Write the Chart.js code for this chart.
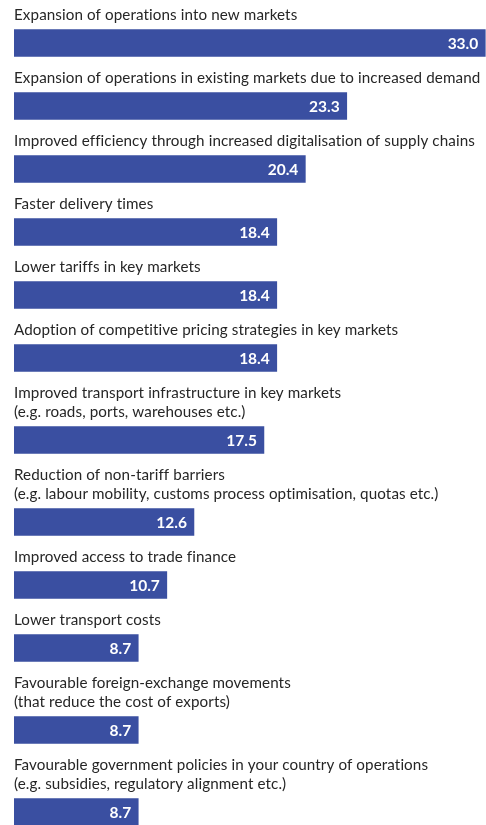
<!DOCTYPE html>
<html>
<head>
    <meta charset="utf-8" />
    <title>Factors driving exports</title>
    <script src="https://cdn.jsdelivr.net/npm/chart.js"></script>
    <style>
        html, body { margin: 0; padding: 0; background: #ffffff; }
        #wrap { width: 486px; height: 825px; position: relative; }
    </style>
</head>
<body>
    <div id="wrap"><canvas id="chart"></canvas></div>
    <script>
        // chart data
        const categories = [
            ['Expansion of operations into new markets'],
            ['Expansion of operations in existing markets due to increased demand'],
            ['Improved efficiency through increased digitalisation of supply chains'],
            ['Faster delivery times'],
            ['Lower tariffs in key markets'],
            ['Adoption of competitive pricing strategies in key markets'],
            ['Improved transport infrastructure in key markets', '(e.g. roads, ports, warehouses etc.)'],
            ['Reduction of non-tariff barriers', '(e.g. labour mobility, customs process optimisation, quotas etc.)'],
            ['Improved access to trade finance'],
            ['Lower transport costs'],
            ['Favourable foreign-exchange movements', '(that reduce the cost of exports)'],
            ['Favourable government policies in your country of operations', '(e.g. subsidies, regulatory alignment etc.)']
        ];
        const values = [33.0, 23.3, 20.4, 18.4, 18.4, 18.4, 17.5, 12.6, 10.7, 8.7, 8.7, 8.7];

        // layout (pixels on the y scale, which runs 0..825)
        const LINE_H = 19;
        const FIRST_BASE = 19.5;
        const BAR_H = 27;
        const GAP_TEXT_BAR = 10.5;
        const BLOCK_EXTRA = 44;

        // work out where each block starts from the number of label lines
        const blockTops = [];
        let runY = 0;
        categories.forEach(lines => {
            blockTops.push(runY);
            runY += lines.length * LINE_H + BLOCK_EXTRA;
        });
        const barCenters = categories.map((lines, i) =>
            blockTops[i] + lines.length * LINE_H + GAP_TEXT_BAR + BAR_H / 2);

        const points = values.map((v, i) => ({ x: v, y: barCenters[i] }));

        const labelPlugin = {
            id: 'labels',
            afterDatasetsDraw(chart) {
                const ctx = chart.ctx;
                const yScale = chart.scales.y;
                const meta = chart.getDatasetMeta(0);
                ctx.save();
                // category text above each bar
                ctx.font = '15.2px Lato';
                ctx.letterSpacing = '0.1px'; // also stops the ti / ffi ligatures
                ctx.fillStyle = '#262626';
                ctx.textAlign = 'left';
                ctx.textBaseline = 'alphabetic';
                categories.forEach((lines, i) => {
                    lines.forEach((line, k) => {
                        const y = yScale.getPixelForValue(blockTops[i] + FIRST_BASE + k * LINE_H);
                        ctx.fillText(line, chart.chartArea.left, y);
                    });
                });
                // values inside the bar end
                ctx.letterSpacing = '0px';
                ctx.font = 'bold 15.5px Lato';
                ctx.fillStyle = '#ffffff';
                ctx.textAlign = 'right';
                meta.data.forEach((bar, i) => {
                    ctx.fillText(values[i].toFixed(1), bar.x - 7, bar.y + 5.5);
                });
                ctx.restore();
            }
        };

        new Chart(document.getElementById('chart'), {
            type: 'bar',
            data: {
                datasets: [{
                    data: points,
                    backgroundColor: '#3a4fa1',
                    borderWidth: 0,
                    barThickness: BAR_H
                }]
            },
            options: {
                indexAxis: 'y',
                responsive: true,
                maintainAspectRatio: false,
                animation: false,
                layout: { padding: { left: 14, right: 0, top: 0, bottom: 0 } },
                plugins: {
                    legend: { display: false },
                    tooltip: { enabled: false }
                },
                scales: {
                    x: { type: 'linear', display: false, min: 0, max: 33.05, offset: false },
                    y: { type: 'linear', display: false, min: 0, max: 825, reverse: true, offset: false }
                }
            },
            plugins: [labelPlugin]
        });
    </script>
</body>
</html>
